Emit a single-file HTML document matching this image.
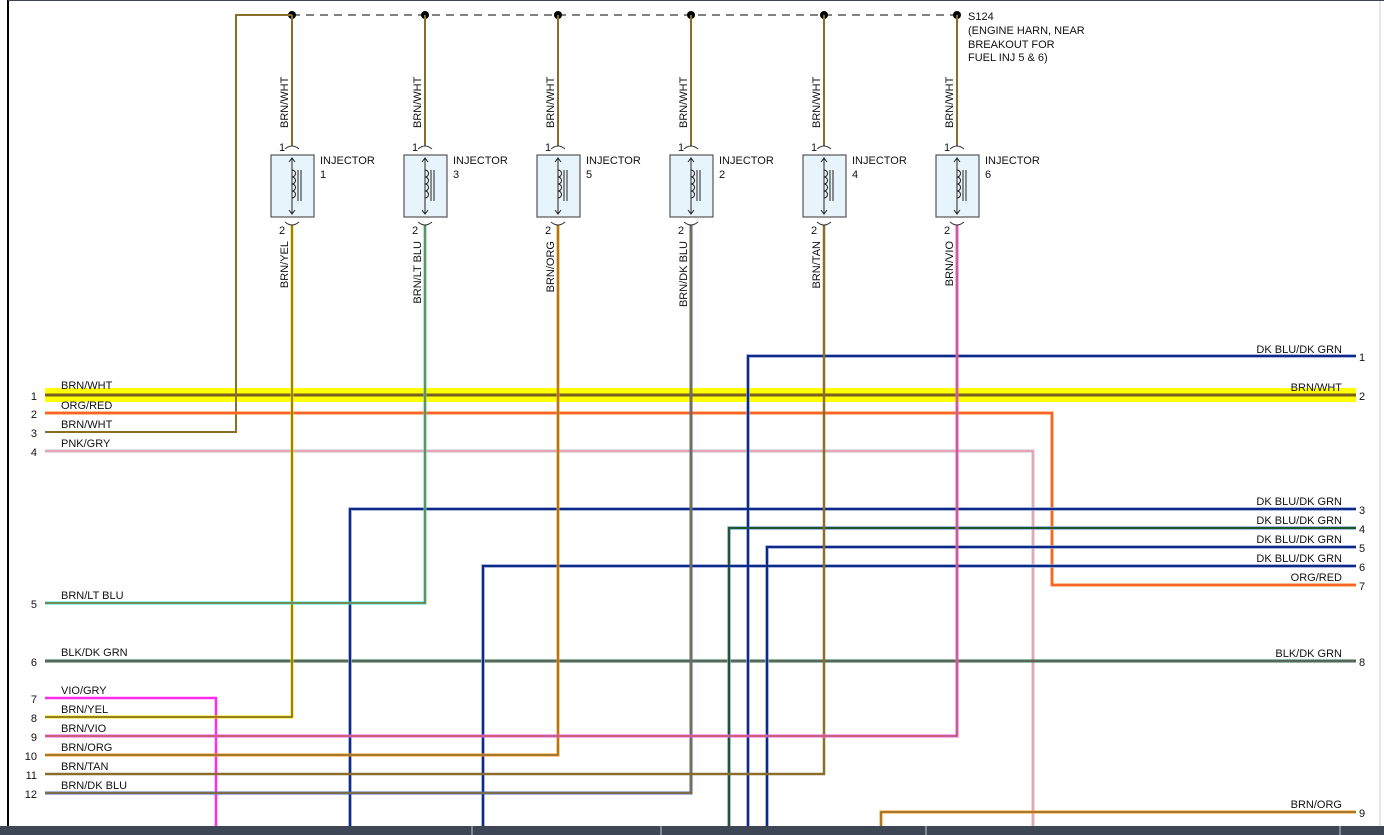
<!DOCTYPE html>
<html><head><meta charset="utf-8"><style>
html,body{margin:0;padding:0;background:#fff;}
svg{display:block;font-family:"Liberation Sans",Arial,sans-serif;}
.t{font-size:11px;fill:#111;}
.n{font-size:11px;fill:#111;}
.w{fill:none;stroke-linejoin:miter;}
</style></head><body>
<svg width="1384" height="835" viewBox="0 0 1384 835" xmlns="http://www.w3.org/2000/svg">
<rect width="1384" height="835" fill="#fff"/>
<line x1="8" y1="0" x2="8" y2="826" stroke="#000" stroke-width="2"/>
<line x1="1380" y1="0" x2="1380" y2="826" stroke="#ccc" stroke-width="1"/>
<line x1="8" y1="0.5" x2="1384" y2="0.5" stroke="#3d4654" stroke-width="1"/>

<!-- splice -->
<line x1="292" y1="15" x2="957" y2="15" stroke="#000" stroke-width="1" stroke-dasharray="8,6"/>
<g fill="#000">
<circle cx="292" cy="15" r="4"/><circle cx="425" cy="15" r="4"/><circle cx="558" cy="15" r="4"/>
<circle cx="691" cy="15" r="4"/><circle cx="824" cy="15" r="4"/><circle cx="957" cy="15" r="4"/>
</g>
<text class="t" x="968" y="20">S124</text>
<text class="t" x="968" y="34">(ENGINE HARN, NEAR</text>
<text class="t" x="968" y="48">BREAKOUT FOR</text>
<text class="t" x="968" y="61">FUEL INJ 5 &amp; 6)</text>

<!-- yellow highlighted row 1 -->
<rect x="45" y="388" width="1311" height="14" fill="#ffff00"/>
<line x1="45" y1="395" x2="1356" y2="395" stroke="#7a6020" stroke-width="3"/>

<polyline class="w" points="292,15 236,15 236,432 45,432" stroke="#8b6d2a" stroke-width="2"/>
<g stroke="#8b6d2a" stroke-width="2">
<line x1="292" y1="15" x2="292" y2="146"/><line x1="425" y1="15" x2="425" y2="146"/>
<line x1="558" y1="15" x2="558" y2="146"/><line x1="691" y1="15" x2="691" y2="146"/>
<line x1="824" y1="15" x2="824" y2="146"/><line x1="957" y1="15" x2="957" y2="146"/>
</g>

<polyline class="w" points="45,413 1052,413 1052,585 1356,585" stroke="#ff7f1a" stroke-width="3"/>
<polyline class="w" points="45,413 1052,413 1052,585 1356,585" stroke="#f04a3a" stroke-width="1"/>
<polyline class="w" points="45,451 1033,451 1033,835" stroke="#c0c0c0" stroke-width="3"/>
<polyline class="w" points="45,451 1033,451 1033,835" stroke="#f59ab0" stroke-width="1.5"/>
<line x1="45" y1="661" x2="1356" y2="661" stroke="#2e6b3a" stroke-width="3"/>
<line x1="45" y1="661" x2="1356" y2="661" stroke="#666" stroke-width="1.5"/>
<polyline class="w" points="45,698 216,698 216,835" stroke="#ff2be8" stroke-width="2.5"/>

<g class="w">
<polyline points="748,835 748,356 1356,356" stroke="#8fa0d0" stroke-width="3.5"/>
<polyline points="350,835 350,509 1356,509" stroke="#8fa0d0" stroke-width="3.5"/>
<polyline points="729,835 729,528 1356,528" stroke="#8fa0d0" stroke-width="3.5"/>
<polyline points="767,835 767,547 1356,547" stroke="#8fa0d0" stroke-width="3.5"/>
<polyline points="483,835 483,566 1356,566" stroke="#8fa0d0" stroke-width="3.5"/>
</g>
<g class="w">
<polyline points="748,835 748,356 1356,356" stroke="#0d2a88" stroke-width="2"/>
<polyline points="350,835 350,509 1356,509" stroke="#0d2a88" stroke-width="2"/>
<polyline points="729,835 729,528 1356,528" stroke="#1a5a30" stroke-width="2"/>
<polyline points="767,835 767,547 1356,547" stroke="#0d2a88" stroke-width="2"/>
<polyline points="483,835 483,566 1356,566" stroke="#0d2a88" stroke-width="2"/>
</g>

<polyline class="w" points="292,225 292,717 45,717" stroke="#f0e000" stroke-width="3"/>
<polyline class="w" points="292,225 292,717 45,717" stroke="#7a6020" stroke-width="1.5"/>
<polyline class="w" points="425,225 425,603 45,603" stroke="#30e0d0" stroke-width="3"/>
<polyline class="w" points="425,225 425,603 45,603" stroke="#8b6d2a" stroke-width="1.5"/>
<polyline class="w" points="558,225 558,755 45,755" stroke="#ff9a20" stroke-width="3"/>
<polyline class="w" points="558,225 558,755 45,755" stroke="#8b6d2a" stroke-width="1.5"/>
<polyline class="w" points="691,225 691,793 45,793" stroke="#4a68b0" stroke-width="3"/>
<polyline class="w" points="691,225 691,793 45,793" stroke="#8b6d2a" stroke-width="1.5"/>
<polyline class="w" points="824,225 824,774 45,774" stroke="#8b6d2a" stroke-width="2.5"/>
<polyline class="w" points="957,225 957,736 45,736" stroke="#ff55dd" stroke-width="3"/>
<polyline class="w" points="957,225 957,736 45,736" stroke="#8b6d2a" stroke-width="1"/>
<polyline class="w" points="881,835 881,812 1356,812" stroke="#ff9a20" stroke-width="3"/>
<polyline class="w" points="881,835 881,812 1356,812" stroke="#8b6d2a" stroke-width="1.5"/>

<defs>
<g id="inj">
<path d="M-7,149 Q0,143 7,149" fill="none" stroke="#333" stroke-width="1"/>
<path d="M-7,222 Q0,228 7,222" fill="none" stroke="#333" stroke-width="1"/>
<rect x="-21" y="155" width="43" height="62" fill="#e8f4fc" stroke="#555" stroke-width="1.2"/>
<line x1="0" y1="158" x2="0" y2="214" stroke="#222" stroke-width="1"/>
<path d="M-3,162 L0,158 L3,162 M-3,210 L0,214 L3,210" fill="none" stroke="#222" stroke-width="1"/>
<path d="M0,170 a3.5,3.5 0 0 1 0,7 a3.5,3.5 0 0 1 0,7 a3.5,3.5 0 0 1 0,7 a3.5,3.5 0 0 1 0,7" fill="none" stroke="#222" stroke-width="1"/>
<line x1="6" y1="170" x2="6" y2="201" stroke="#222" stroke-width="1"/>
<line x1="9" y1="170" x2="9" y2="201" stroke="#222" stroke-width="1"/>
<text class="t" x="-13" y="151" fill="#600">1</text>
<text class="t" x="-13" y="234">2</text>
</g>
</defs>
<use href="#inj" x="292"/><use href="#inj" x="425"/><use href="#inj" x="558"/>
<use href="#inj" x="691"/><use href="#inj" x="824"/><use href="#inj" x="957"/>
<g class="t">
<text x="320" y="164">INJECTOR</text><text x="320" y="178">1</text>
<text x="453" y="164">INJECTOR</text><text x="453" y="178">3</text>
<text x="586" y="164">INJECTOR</text><text x="586" y="178">5</text>
<text x="719" y="164">INJECTOR</text><text x="719" y="178">2</text>
<text x="852" y="164">INJECTOR</text><text x="852" y="178">4</text>
<text x="985" y="164">INJECTOR</text><text x="985" y="178">6</text>
</g>
<g class="t">
<text transform="translate(288,128) rotate(-90)">BRN/WHT</text>
<text transform="translate(421,128) rotate(-90)">BRN/WHT</text>
<text transform="translate(554,128) rotate(-90)">BRN/WHT</text>
<text transform="translate(687,128) rotate(-90)">BRN/WHT</text>
<text transform="translate(820,128) rotate(-90)">BRN/WHT</text>
<text transform="translate(953,128) rotate(-90)">BRN/WHT</text>
<text transform="translate(288,241) rotate(-90)" text-anchor="end">BRN/YEL</text>
<text transform="translate(421,241) rotate(-90)" text-anchor="end">BRN/LT BLU</text>
<text transform="translate(554,241) rotate(-90)" text-anchor="end">BRN/ORG</text>
<text transform="translate(687,241) rotate(-90)" text-anchor="end">BRN/DK BLU</text>
<text transform="translate(820,241) rotate(-90)" text-anchor="end">BRN/TAN</text>
<text transform="translate(953,241) rotate(-90)" text-anchor="end">BRN/VIO</text>
</g>

<g class="t">
<text x="61" y="389">BRN/WHT</text>
<text x="61" y="409">ORG/RED</text>
<text x="61" y="428">BRN/WHT</text>
<text x="61" y="447">PNK/GRY</text>
<text x="61" y="599">BRN/LT BLU</text>
<text x="61" y="656">BLK/DK GRN</text>
<text x="61" y="694">VIO/GRY</text>
<text x="61" y="713">BRN/YEL</text>
<text x="61" y="732">BRN/VIO</text>
<text x="61" y="751">BRN/ORG</text>
<text x="61" y="770">BRN/TAN</text>
<text x="61" y="789">BRN/DK BLU</text>
</g>
<g class="n" text-anchor="end">
<text x="37" y="400">1</text><text x="37" y="418">2</text><text x="37" y="437">3</text>
<text x="37" y="456">4</text><text x="37" y="608">5</text><text x="37" y="666">6</text>
<text x="37" y="703">7</text><text x="37" y="722">8</text><text x="37" y="741">9</text>
<text x="37" y="760">10</text><text x="37" y="779">11</text><text x="37" y="798">12</text>
</g>
<g class="t" text-anchor="end">
<text x="1342" y="353">DK BLU/DK GRN</text>
<text x="1342" y="391">BRN/WHT</text>
<text x="1342" y="505">DK BLU/DK GRN</text>
<text x="1342" y="524">DK BLU/DK GRN</text>
<text x="1342" y="543">DK BLU/DK GRN</text>
<text x="1342" y="562">DK BLU/DK GRN</text>
<text x="1342" y="581">ORG/RED</text>
<text x="1342" y="657">BLK/DK GRN</text>
<text x="1342" y="808">BRN/ORG</text>
</g>
<g class="n">
<text x="1359" y="361">1</text><text x="1359" y="400">2</text><text x="1359" y="514">3</text>
<text x="1359" y="533">4</text><text x="1359" y="552">5</text><text x="1359" y="571">6</text>
<text x="1359" y="590">7</text><text x="1359" y="666">8</text><text x="1359" y="817">9</text>
</g>

<rect x="0" y="826" width="1384" height="9" fill="#3d4654"/>
<g stroke="#c8ccd2" stroke-width="1">
<line x1="472" y1="826" x2="472" y2="835"/><line x1="661" y1="826" x2="661" y2="835"/>
<line x1="926" y1="826" x2="926" y2="835"/><line x1="1340" y1="826" x2="1340" y2="835"/>
</g>
</svg>
</body></html>
